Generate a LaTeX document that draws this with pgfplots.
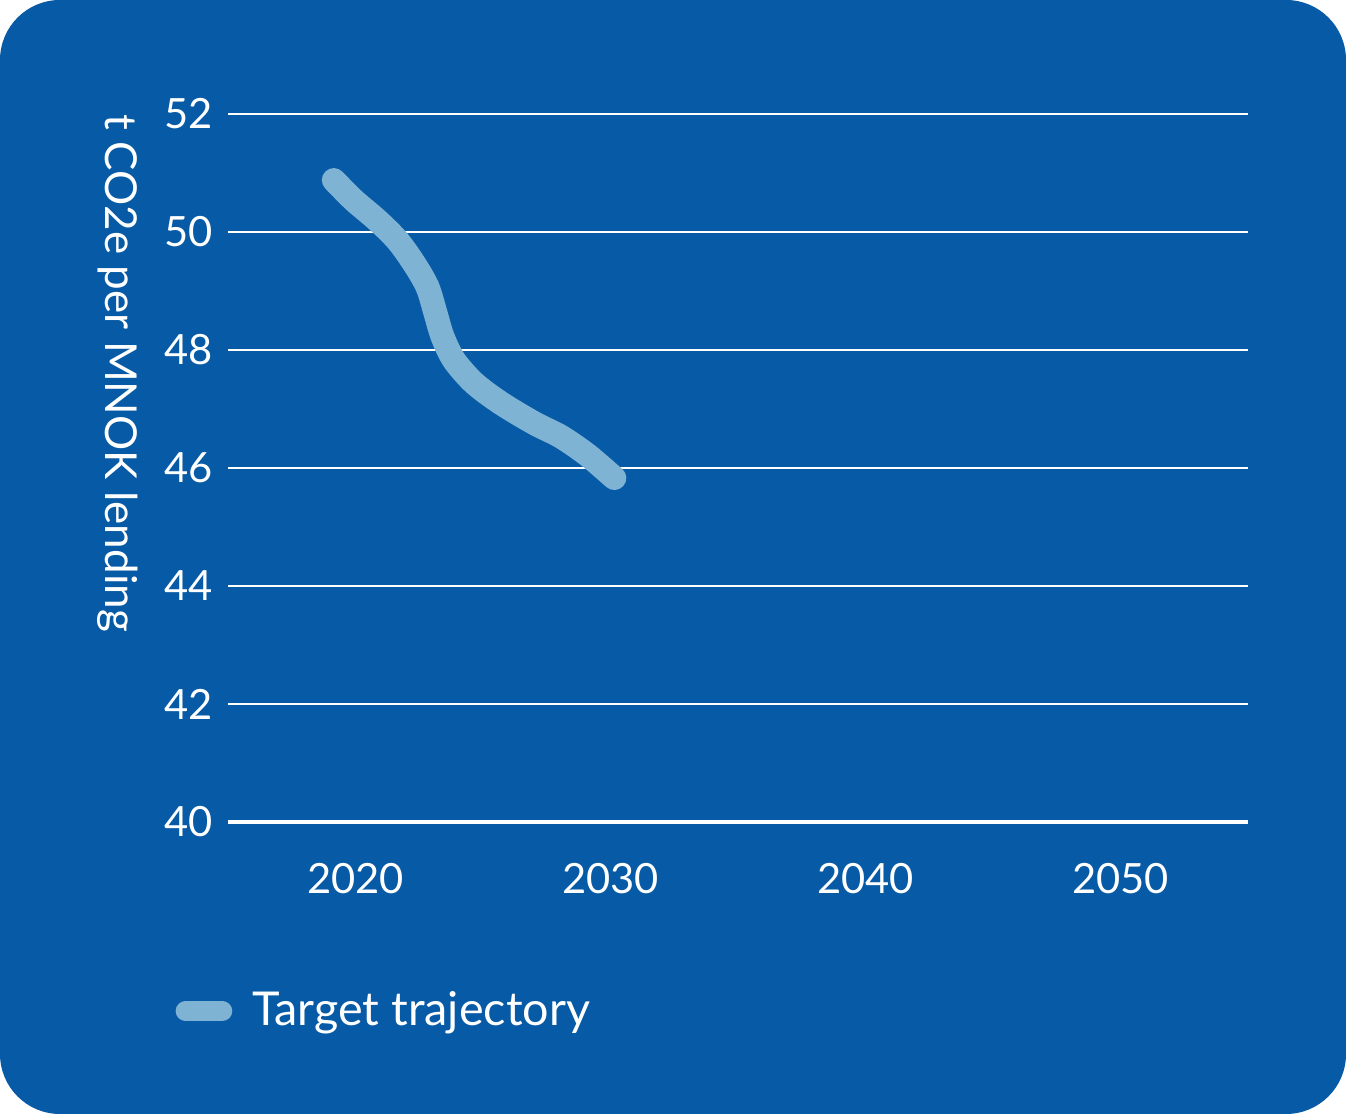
\documentclass[border=0pt]{standalone}
\usepackage{fontspec}
\setmainfont{Lato}
\usepackage{pgfplots}
\pgfplotsset{compat=1.18}
\definecolor{bgblue}{HTML}{075AA5}
\definecolor{trajblue}{HTML}{7FB3D3}

\begin{document}
\begin{tikzpicture}
% card background, 1346 x 1114 px at 0.3pt/px
\fill[bgblue, rounded corners=18pt] (0pt,0pt) rectangle (403.8pt,334.2pt);

\begin{axis}[
    at={(68.4pt,87.6pt)}, anchor=south west,
    scale only axis,
    width=306pt, height=212.4pt,
    xmin=2015, xmax=2055,
    ymin=40, ymax=52,
    xtick={2020,2030,2040,2050},
    ytick={40,42,44,46,48,50,52},
    major tick length=0pt,
    axis y line*=left,
    y axis line style={draw=none},
    axis x line*=bottom,
    x axis line style={white, line width=1pt, -},
    ymajorgrids=true,
    grid style={white, line width=0.45pt},
    ticklabel style={font=\fontsize{12.5}{14}\selectfont, text=white},
    yticklabel style={xshift=-1pt},
    xticklabel style={yshift=-9pt},
    /pgf/number format/assume math mode=true,
    /pgf/number format/1000 sep={},
    ylabel={t CO2e per MNOK lending},
    ylabel style={rotate=180, font=\fontsize{13.2}{15}\selectfont, text=white,
        at={(axis description cs:-0.108,1.0155)}, anchor=west},
    legend style={at={(axis description cs:-0.052,-0.267)}, anchor=west,
        draw=none, fill=none, text=white, inner sep=0pt,
        font=\fontsize{14}{16}\selectfont},
    legend image code/.code={\draw[#1, line width=6pt, line cap=round] (0pt,0pt) -- (11pt,0pt);},
]
\addplot[trajblue, line width=7.2pt, line cap=round, line join=round, smooth, tension=0.5] coordinates {
    (2019.15, 50.88)
    (2019.93, 50.54)
    (2020.85, 50.20)
    (2021.64, 49.86)
    (2022.29, 49.47)
    (2022.82, 49.07)
    (2023.14, 48.62)
    (2023.41, 48.23)
    (2023.86, 47.83)
    (2024.65, 47.44)
    (2025.70, 47.10)
    (2027.01, 46.76)
    (2028.06, 46.53)
    (2029.10, 46.22)
    (2030.15, 45.83)
};
\addlegendentry{\hspace{4pt}Target trajectory}
\end{axis}
\end{tikzpicture}
\end{document}
